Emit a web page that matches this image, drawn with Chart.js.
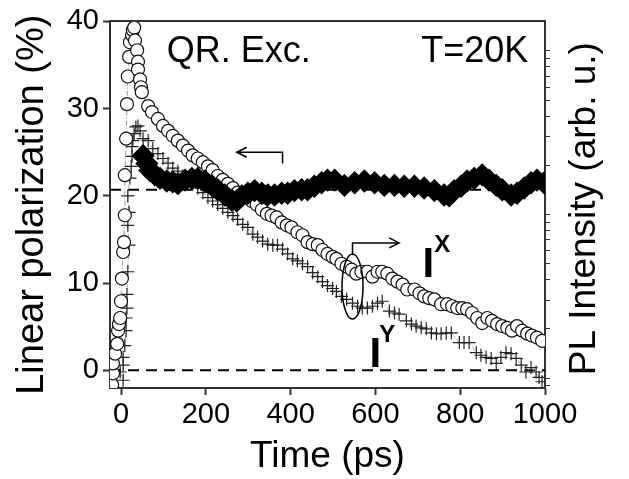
<!DOCTYPE html>
<html>
<head>
<meta charset="utf-8">
<script src="https://cdn.jsdelivr.net/npm/chart.js@4.4.1/dist/chart.umd.min.js"></script>
<style>
  html, body { margin: 0; padding: 0; background: #fff; }
  #wrap { width: 629px; height: 479px; }
</style>
</head>
<body>
<div id="wrap"><canvas id="plChart" width="629" height="479"></canvas></div>
<script>
// I^X (open circles), PL intensity, right log axis
const ixTime = [
  -21, -19, -19, -14, -9, -7, -5, -2, 0, 2,
  5, 7, 9, 9, 12, 14, 16, 19, 21, 26,
  28, 31, 33, 38, 40, 40, 45, 47, 49,
  64, 73, 87, 99, 111, 122, 134, 146, 158, 169,
  181, 193, 205, 216, 228, 240, 252, 264, 275, 292,
  308, 320, 332, 344, 355, 367, 379, 391, 402, 416,
  428, 440, 452, 464, 475, 487, 499, 508, 520, 532,
  544, 555, 567, 581, 593, 605, 616, 628, 640, 652,
  664, 675, 692, 704, 715, 727, 739, 755, 769, 781,
  793, 805, 816, 828, 840, 852, 864, 875, 887, 899,
  911, 922, 934, 946, 958, 969, 981, 993
];
const ixValue = [
  0.91, 1.07, 1.23, 1.41, 1.62, 1.95, 2.14, 2.33, 2.95, 4.06,
  5.90, 6.78, 9.9, 17.4, 29.1, 47.3, 69.8, 92, 113, 125,
  134, 139, 116, 101, 86, 77, 67, 60, 56,
  46.0, 42.3, 38.4, 34.8, 32.5, 30.3, 28.3, 26.4, 24.6, 23.0,
  22.0, 20.9, 19.7, 18.7, 17.2, 16.3, 15.4, 14.5, 13.6, 12.8,
  12.1, 11.5, 10.7, 10.1, 9.86, 9.60, 8.95, 8.59, 8.35, 7.79,
  7.47, 6.78, 6.59, 6.50, 6.07, 5.74, 5.51, 5.36, 5.00, 4.80,
  4.60, 4.35, 4.47, 4.47, 4.17, 4.47, 4.47, 4.35, 4.06, 3.89,
  3.73, 3.48, 3.48, 3.30, 3.16, 3.08, 3.03, 2.83, 2.83, 2.75,
  2.68, 2.68, 2.64, 2.50, 2.33, 2.17, 2.33, 2.24, 2.14, 2.08,
  2.03, 1.95, 2.08, 1.95, 1.87, 1.82, 1.77, 1.69
];

// I^Y (crosses)
const iyTime = [
  -2, 5, 5, 5, 9, 12, 12, 14, 14, 16,
  19, 16, 19, 16, 21, 24, 26, 26, 28, 31,
  35, 40, 45, 52,
  64, 75, 87, 99, 111, 122, 134, 146, 158, 169,
  181, 193, 205, 216, 228, 240, 252, 264, 275, 287,
  299, 311, 322, 334, 346, 358, 369, 381, 393, 405,
  416, 428, 440, 452, 464, 475, 487, 499, 508, 520,
  532, 546, 558, 569, 581, 593, 605, 616, 633, 645,
  656, 673, 685, 696, 708, 720, 732, 744, 755, 767,
  779, 798, 809, 821, 838, 849, 861, 873, 885, 896,
  908, 920, 932, 944, 955, 967, 979, 986, 993
];
const iyValue = [
  1.09, 0.97, 1.20, 1.34, 1.58, 1.95, 2.33, 2.68, 3.25, 4.47,
  6.50, 8.59, 10.3, 13.0, 16.7, 19.7, 22.7, 26.0, 28.3, 31.2,
  34.3, 34.8, 32.5, 29.1,
  28.3, 25.3, 23.6, 22.0, 20.6, 19.2, 18.4, 17.2, 16.3, 15.6,
  14.5, 13.6, 12.7, 12.1, 11.5, 10.9, 10.3, 9.86, 9.33, 8.71,
  8.35, 7.58, 7.27, 6.88, 6.59, 6.50, 6.50, 6.15, 5.74, 5.36,
  5.21, 5.00, 4.80, 4.41, 4.17, 3.89, 3.68, 3.53, 3.39, 3.16,
  3.03, 2.87, 2.75, 2.68, 2.68, 2.75, 2.87, 2.95, 2.57, 2.50,
  2.46, 2.24, 2.14, 2.08, 2.03, 2.00, 1.89, 1.87, 1.87, 1.89,
  1.89, 1.65, 1.65, 1.65, 1.43, 1.38, 1.34, 1.32, 1.23, 1.34,
  1.43, 1.41, 1.32, 1.20, 1.09, 1.16, 1.09, 1.01, 0.95
];

// linear polarization (filled diamonds), left axis
const polTime = [
  52, 61, 68, 80, 92, 108, 122, 134, 151, 167,
  181, 198, 214, 228, 245, 261, 273, 285, 299, 315,
  332, 346, 362, 379, 393, 409, 426, 440, 456, 473,
  487, 504, 527, 551, 574, 598, 621, 645, 668, 692,
  715, 739, 762, 774, 786, 802, 816, 833, 852, 868,
  885, 899, 920, 934, 951, 967, 981, 998
];
const polValue = [
  24.6, 23.7, 22.9, 22.4, 22.0, 21.7, 21.6, 21.4, 21.8, 22.0,
  22.0, 21.7, 21.2, 20.7, 20.1, 19.5, 19.4, 20.0, 20.3, 20.6,
  20.3, 20.1, 20.1, 20.3, 20.3, 20.6, 20.7, 20.7, 21.1, 21.5,
  21.8, 21.8, 21.2, 21.5, 21.7, 21.5, 21.2, 21.2, 21.1, 21.1,
  20.9, 20.6, 20.1, 20.0, 20.6, 21.1, 21.7, 22.0, 22.4, 21.8,
  21.2, 20.7, 20.1, 20.3, 20.9, 21.5, 21.8, 21.5
];

const refLevels = [0, 20.7];
const xTicks = [0, 200, 400, 600, 800, 1000];
const yTicks = [0, 10, 20, 30, 40];
const plTicks = [0.9, 1, 2, 3, 4, 5, 6, 7, 8, 9, 10, 20, 30, 40, 50, 60, 70, 80, 90, 100];

const FONT = '"Liberation Sans", Arial, Helvetica, sans-serif';
Chart.defaults.font.family = FONT;
Chart.defaults.color = '#000';

const pairs = (xs, ys) => xs.map((t, i) => ({ x: t, y: ys[i] }));
const AXIS = '#333';

const extras = {
  id: 'extras',
  afterDatasetsDraw(chart) {
    const { ctx, scales: { x, y } } = chart;
    const px = t => x.getPixelForValue(t);
    const py = v => y.getPixelForValue(v);
    ctx.save();
    ctx.strokeStyle = '#000';
    ctx.lineWidth = 1.5;

    // arrow pointing to the left axis
    ctx.beginPath();
    ctx.moveTo(px(381), py(23.7));
    ctx.lineTo(px(381), py(25.0));
    ctx.lineTo(px(273), py(25.0));
    ctx.moveTo(px(273) + 10, py(25.0) - 5);
    ctx.lineTo(px(273), py(25.0));
    ctx.lineTo(px(273) + 10, py(25.0) + 5);
    ctx.stroke();

    // arrow pointing to the right axis
    ctx.beginPath();
    ctx.moveTo(px(546), py(13.2));
    ctx.lineTo(px(546), py(14.6));
    ctx.lineTo(px(656), py(14.6));
    ctx.moveTo(px(656) - 10, py(14.6) - 5);
    ctx.lineTo(px(656), py(14.6));
    ctx.lineTo(px(656) - 10, py(14.6) + 5);
    ctx.stroke();

    // ellipse round the intensity curves
    ctx.beginPath();
    ctx.ellipse(px(546), py(9.6), 10.5, 32.5, 0, 0, Math.PI * 2);
    ctx.stroke();

    ctx.fillStyle = '#000';
    ctx.textBaseline = 'alphabetic';
    ctx.textAlign = 'left';
    ctx.font = '36px ' + FONT;
    ctx.fillText('QR. Exc.', px(108), py(35.4));
    ctx.fillText('T=20K', px(708), py(35.4));

    ctx.font = 'bold 42px ' + FONT;
    ctx.fillText('I', px(711), py(10.7));
    ctx.fillText('I', px(586), py(0.34));
    ctx.font = 'bold 24px ' + FONT;
    ctx.fillText('X', px(739), py(13.6));
    ctx.fillText('Y', px(609), py(3.2));
    ctx.restore();
  },
  afterDraw(chart) {
    const { ctx } = chart;
    const s = chart.scales.y2;
    ctx.save();
    ctx.translate(s.left + 40, (s.top + s.bottom) / 2 + 4);
    ctx.rotate(-Math.PI / 2);
    ctx.font = '37px ' + FONT;
    ctx.fillStyle = '#000';
    ctx.textAlign = 'center';
    ctx.textBaseline = 'middle';
    ctx.fillText('PL Intensity (arb. u.)', 0, 0);
    ctx.restore();
  }
};

const refSets = refLevels.map(v => ({
  data: [{ x: -26, y: v }, { x: 1000, y: v }],
  yAxisID: 'y',
  showLine: true,
  borderColor: '#000',
  borderWidth: 2,
  borderDash: [11, 7],
  pointRadius: 0,
  order: 5
}));

new Chart(document.getElementById('plChart'), {
  type: 'scatter',
  data: {
    datasets: [
      {
        label: 'P',
        data: pairs(polTime, polValue),
        yAxisID: 'y',
        showLine: true,
        borderColor: '#000',
        borderWidth: 8,
        pointStyle: 'rectRot',
        pointRadius: 6,
        pointBackgroundColor: '#000',
        pointBorderColor: '#000',
        order: 0
      },
      {
        label: 'IX',
        data: pairs(ixTime, ixValue),
        yAxisID: 'y2',
        showLine: true,
        borderColor: '#999',
        borderWidth: 1,
        borderDash: [5, 2, 1, 2],
        pointStyle: 'circle',
        pointRadius: 6.5,
        pointBorderWidth: 1.2,
        pointBorderColor: '#111',
        pointBackgroundColor: '#fff',
        order: 1
      },
      {
        label: 'IY',
        data: pairs(iyTime, iyValue),
        yAxisID: 'y2',
        showLine: true,
        borderColor: '#aaa',
        borderWidth: 1,
        borderDash: [5, 2, 1, 2],
        pointStyle: 'cross',
        pointRadius: 6.5,
        pointBorderWidth: 1.2,
        pointBorderColor: '#222',
        order: 2
      },
      ...refSets
    ]
  },
  options: {
    responsive: false,
    animation: false,
    layout: { padding: 0 },
    plugins: { legend: { display: false }, tooltip: { enabled: false } },
    scales: {
      x: {
        type: 'linear',
        position: 'bottom',
        min: -26,
        max: 1000,
        afterBuildTicks: s => { s.ticks = xTicks.map(v => ({ value: v })); },
        afterFit: s => { s.height = 91; },
        ticks: { font: { size: 29 }, padding: 3, maxRotation: 0, callback: v => String(v) },
        grid: { drawOnChartArea: false, tickLength: 7, color: AXIS, tickWidth: 2 },
        border: { color: AXIS, width: 2 },
        title: { display: true, text: 'Time (ps)', font: { size: 37 }, padding: { top: 10, bottom: 0 } }
      },
      xTop: {
        type: 'linear',
        position: 'top',
        min: -26,
        max: 1000,
        afterFit: s => { s.height = 16; },
        ticks: { display: false },
        grid: { display: false },
        border: { color: AXIS, width: 2 }
      },
      y: {
        type: 'linear',
        position: 'left',
        min: -2.03,
        max: 40,
        afterBuildTicks: s => { s.ticks = yTicks.map(v => ({ value: v })); },
        afterFit: s => { s.width = 110; },
        ticks: { font: { size: 29 }, padding: 4, callback: v => String(v) },
        grid: { drawOnChartArea: false, tickLength: 7, color: AXIS, tickWidth: 2 },
        border: { color: AXIS, width: 2 },
        title: { display: true, text: 'Linear polarization (%)', font: { size: 38 }, padding: { top: 10, bottom: 0 } }
      },
      y2: {
        type: 'logarithmic',
        position: 'right',
        min: 0.87,
        max: 151.6,
        afterBuildTicks: s => { s.ticks = plTicks.map(v => ({ value: v })); },
        afterFit: s => { s.width = 84; },
        ticks: { display: false },
        grid: { drawOnChartArea: false, tickLength: 5, color: AXIS, tickWidth: 1 },
        border: { color: AXIS, width: 2 }
      }
    }
  },
  plugins: [extras]
});
</script>
</body>
</html>
